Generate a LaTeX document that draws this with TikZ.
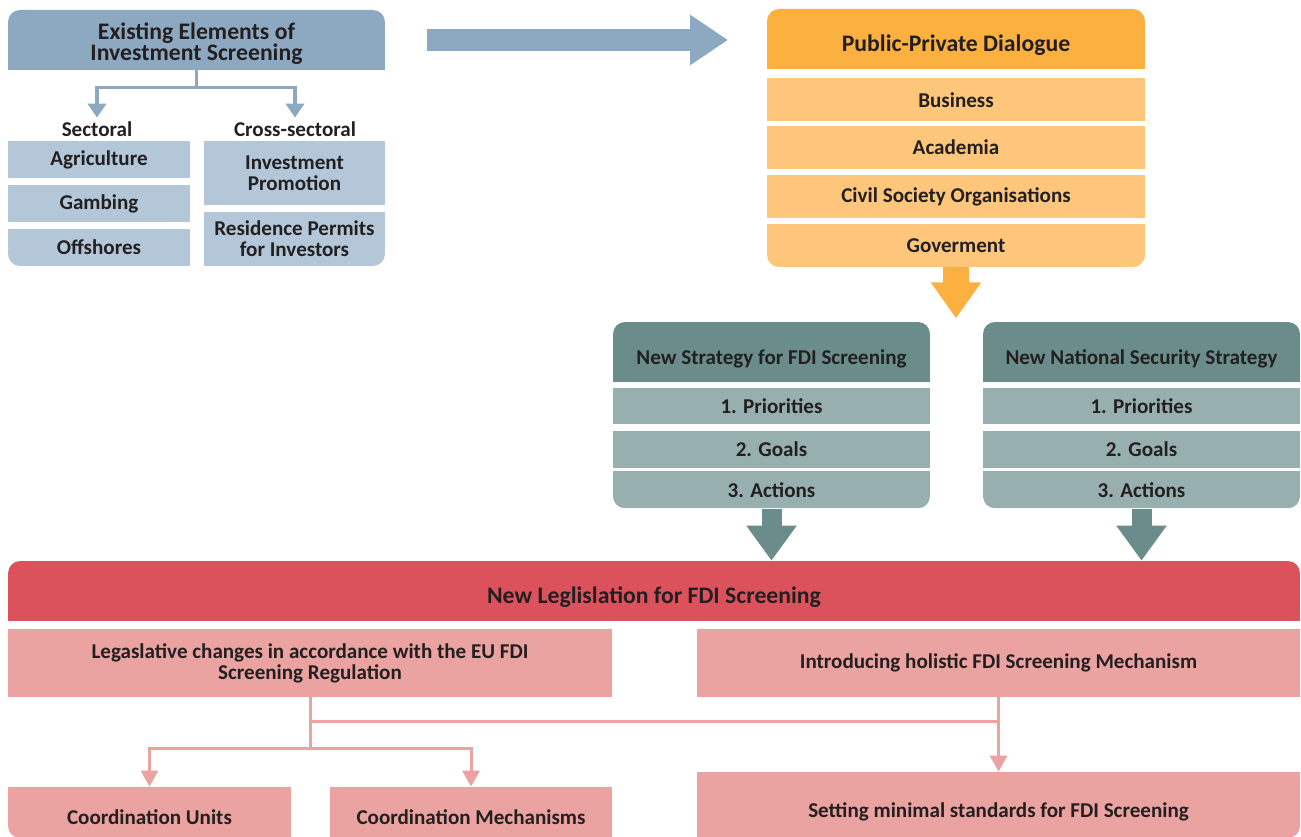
\documentclass[tikz,border=0pt]{standalone}
\usepackage{fontspec}
\setmainfont{Carlito}
\usetikzlibrary{arrows.meta,backgrounds}

\definecolor{exhead}{HTML}{8DA9C1}
\definecolor{exrow}{HTML}{B4C7D9}
\definecolor{pphead}{HTML}{FBB040}
\definecolor{pprow}{HTML}{FDC67B}
\definecolor{sthead}{HTML}{6A8C8B}
\definecolor{strow}{HTML}{97B0AF}
\definecolor{lghead}{HTML}{DB525C}
\definecolor{lgrow}{HTML}{EBA3A1}
\definecolor{txt}{HTML}{231F20}

\begin{document}
\begin{tikzpicture}[x=0.02cm, y=-0.02cm,
  every node/.style={inner sep=0pt, text=txt, align=center},
  hfont/.style={font=\fontsize{13.5}{12}\selectfont\bfseries},
  bfont/.style={font=\fontsize{12}{12}\selectfont\bfseries},
  rnd/.style={rounded corners=0.24cm},
  hdtxt/.style={text height=0.5cm, text depth=0pt},
  exhd/.style={fill=exhead, rnd, hfont},
  exbox/.style={fill=exrow, bfont},
  pphd/.style={fill=pphead, rnd, hfont, hdtxt},
  ppbox/.style={fill=pprow, bfont, minimum width=7.56cm, minimum height=0.86cm},
  sthd/.style={fill=sthead, rnd, bfont, hdtxt, minimum width=6.34cm, minimum height=1.2cm},
  stbox/.style={fill=strow, bfont, minimum width=6.34cm, minimum height=0.73cm},
  lghd/.style={fill=lghead, rnd, hfont, hdtxt},
  lgbox/.style={fill=lgrow, bfont},
  lowtxt/.style={text height=0.49cm, text depth=0pt},
  exarr/.style={draw=exhead, line width=0.07cm, -{Triangle[width=0.36cm,length=0.28cm]}},
  bigarr/.style={draw=exhead, line width=0.44cm, -{Triangle[width=0.96cm,length=0.76cm]}},
  pparr/.style={draw=pphead, line width=0.52cm, -{Triangle[width=0.96cm,length=0.72cm]}},
  starr/.style={draw=sthead, line width=0.4cm, -{Triangle[width=0.96cm,length=0.7cm]}},
  pkline/.style={draw=lgrow, line width=0.06cm},
  pkarr/.style={pkline, -{Triangle[width=0.34cm,length=0.32cm]}}]
\useasboundingbox (0,0) rectangle (1301,837);

% existing elements
\node[exhd, minimum width=7.54cm, minimum height=1.2cm] (exist) at (196.5,40) {\rule{0pt}{0.98em}Existing Elements of\\Investment Screening};
\node[bfont, inner sep=2pt] (sect) at (97,129) {Sectoral};
\node[bfont, inner sep=2pt] (cross) at (295,129) {Cross-sectoral};
\node[exbox, minimum width=3.64cm, minimum height=0.74cm] (agri) at (99,159.5) {Agriculture};
\node[exbox, minimum width=3.64cm, minimum height=0.74cm] (gamb) at (99,203.5) {Gambing};
\node[exbox, rnd, minimum width=3.64cm, minimum height=0.74cm] (offs) at (99,247.5) {Offshores};
\node[exbox, minimum width=3.62cm, minimum height=1.28cm] (invp) at (294.5,173) {Investment\\Promotion};
\node[exbox, rnd, minimum width=3.62cm, minimum height=1.08cm] (resp) at (294.5,239) {Residence Permits\\for Investors};
\draw[exarr] (exist.south) -- ++(0,17) -| (sect.north);
\draw[exarr] (exist.south) -- ++(0,17) -| (cross.north);

\coordinate (arrs) at (427,40);
\coordinate (arre) at (728,40);
\draw[bigarr] (arrs) -- (arre);

% public-private dialogue
\node[pphd, minimum width=7.56cm, minimum height=1.2cm] (ppd) at (956,39) {Public-Private Dialogue};
\node[ppbox] (bus) at (956,100) {Business};
\node[ppbox] (aca) at (956,147.5) {Academia};
\node[ppbox] (cso) at (956,197) {Civil Society Organisations};
\node[ppbox, rnd] (gov) at (956,245.5) {Goverment};
\draw[pparr] (gov.south) -- ++(0,51);

% strategies
\node[sthd] (strat) at (771.5,352) {New Strategy for FDI Screening};
\node[stbox] (pri1) at (771.5,406) {1. Priorities};
\node[stbox] (goal1) at (771.5,449.5) {2. Goals};
\node[stbox, rnd] (act1) at (771.5,490) {3. Actions};
\node[sthd] (nss) at (1141.5,352) {New National Security Strategy};
\node[stbox] (pri2) at (1141.5,406) {1. Priorities};
\node[stbox] (goal2) at (1141.5,449.5) {2. Goals};
\node[stbox, rnd] (act2) at (1141.5,490) {3. Actions};

% legislation
\node[lghd, minimum width=25.84cm, minimum height=1.2cm] (leg) at (654,591) {New Leglislation for FDI Screening};
\node[lgbox, minimum width=12.08cm, minimum height=1.36cm] (legc) at (310,663) {Legaslative changes in accordance with the EU FDI\\Screening Regulation};
\node[lgbox, minimum width=12.06cm, minimum height=1.36cm] (holi) at (998.5,663) {Introducing holistic FDI Screening Mechanism};
\node[lgbox, rnd, lowtxt, minimum width=5.66cm, minimum height=1.02cm] (cunit) at (149.5,812.5) {Coordination Units};
\node[lgbox, lowtxt, minimum width=5.64cm, minimum height=1.02cm] (cmech) at (471,812.5) {Coordination Mechanisms};
\node[lgbox, rnd, lowtxt, minimum width=12.06cm, minimum height=1.32cm] (setm) at (998.5,805) {Setting minimal standards for FDI Screening};

\draw[starr] (act1.south) -- (act1.south |- leg.north);
\draw[starr] (act2.south) -- (act2.south |- leg.north);
\draw[pkline] (legc.south) -- ++(0,24) -| (holi.south);
\draw[pkarr] (legc.south) -- ++(0,51) -| (cunit.north);
\draw[pkarr] (legc.south) -- ++(0,51) -| (cmech.north);
\draw[pkarr] (holi.south) -- (setm.north);

% square off the corners that are not rounded
\begin{scope}[on background layer]
\fill[exhead] (exist.south west) rectangle (exist.east);
\fill[exrow] (offs.north west) rectangle (offs.east);
\fill[exrow] (offs.north) rectangle (offs.south east);
\fill[exrow] (resp.north west) rectangle (resp.east);
\fill[exrow] (resp.north west) rectangle (resp.south);
\fill[pphead] (ppd.south west) rectangle (ppd.east);
\fill[pprow] (gov.north west) rectangle (gov.east);
\fill[sthead] (strat.south west) rectangle (strat.east);
\fill[strow] (act1.north west) rectangle (act1.east);
\fill[sthead] (nss.south west) rectangle (nss.east);
\fill[strow] (act2.north west) rectangle (act2.east);
\fill[lghead] (leg.south west) rectangle (leg.east);
\fill[lgrow] (cunit.north west) rectangle (cunit.east);
\fill[lgrow] (cunit.north) rectangle (cunit.south east);
\fill[lgrow] (setm.north west) rectangle (setm.east);
\fill[lgrow] (setm.north west) rectangle (setm.south);
\end{scope}
\end{tikzpicture}
\end{document}
